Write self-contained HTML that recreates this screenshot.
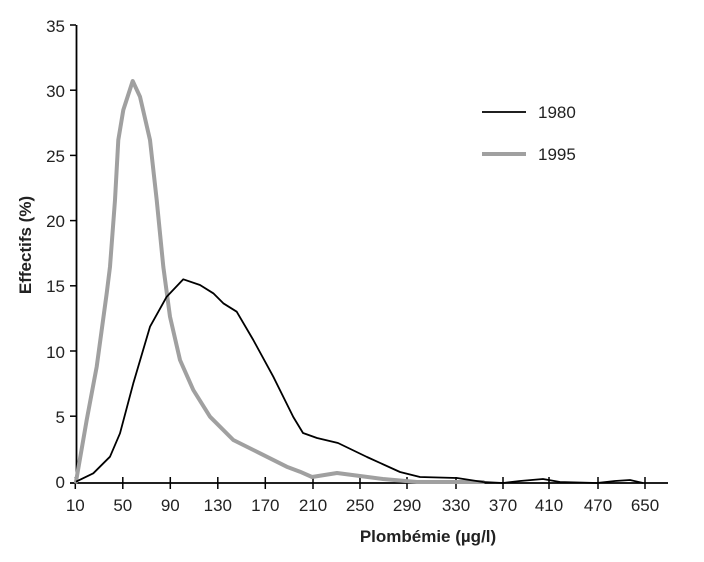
<!DOCTYPE html>
<html><head><meta charset="utf-8"><style>
html,body{margin:0;padding:0;background:#fff;}
svg{display:block;font-family:"Liberation Sans",Arial,sans-serif;}
</style></head><body>
<svg width="704" height="562" viewBox="0 0 704 562" xmlns="http://www.w3.org/2000/svg">
<rect width="704" height="562" fill="#fff"/>
<line x1="76.5" y1="25" x2="76.5" y2="483" stroke="#000" stroke-width="1.8"/>
<line x1="70" y1="483" x2="668" y2="483" stroke="#000" stroke-width="1.8"/>
<g stroke="#000" stroke-width="1.5">
<line x1="70" y1="25" x2="76" y2="25"/><line x1="70" y1="90.2" x2="76" y2="90.2"/>
<line x1="70" y1="155.4" x2="76" y2="155.4"/><line x1="70" y1="220.6" x2="76" y2="220.6"/>
<line x1="70" y1="285.8" x2="76" y2="285.8"/><line x1="70" y1="351" x2="76" y2="351"/>
<line x1="70" y1="416.2" x2="76" y2="416.2"/>
<line x1="75.3" y1="477" x2="75.3" y2="489"/><line x1="122.8" y1="477" x2="122.8" y2="489"/>
<line x1="170.3" y1="477" x2="170.3" y2="489"/><line x1="217.8" y1="477" x2="217.8" y2="489"/>
<line x1="265.3" y1="477" x2="265.3" y2="489"/><line x1="313" y1="477" x2="313" y2="489"/>
<line x1="360" y1="477" x2="360" y2="489"/><line x1="407" y1="477" x2="407" y2="489"/>
<line x1="456" y1="477" x2="456" y2="489"/><line x1="503" y1="477" x2="503" y2="489"/>
<line x1="549" y1="477" x2="549" y2="489"/><line x1="598" y1="477" x2="598" y2="489"/>
<line x1="645" y1="477" x2="645" y2="489"/>
</g>
<g font-size="17" fill="#222" text-anchor="end">
<text x="65" y="32">35</text><text x="65" y="97">30</text><text x="65" y="162">25</text>
<text x="65" y="227">20</text><text x="65" y="292">15</text><text x="65" y="358">10</text>
<text x="65" y="423">5</text><text x="65" y="488">0</text>
</g>
<g font-size="17" fill="#222" text-anchor="middle">
<text x="75.3" y="511">10</text><text x="122.8" y="511">50</text><text x="170.3" y="511">90</text>
<text x="217.8" y="511">130</text><text x="265.3" y="511">170</text><text x="313" y="511">210</text>
<text x="360" y="511">250</text><text x="407" y="511">290</text><text x="456" y="511">330</text>
<text x="503" y="511">370</text><text x="549" y="511">410</text><text x="598" y="511">470</text>
<text x="645" y="511">650</text>
</g>
<text x="428" y="542" font-size="17" font-weight="bold" text-anchor="middle" fill="#222">Plombémie (µg/l)</text>
<text transform="translate(31,245) rotate(-90)" font-size="17" font-weight="bold" text-anchor="middle" fill="#222">Effectifs (%)</text>
<line x1="482" y1="112" x2="526" y2="112" stroke="#000" stroke-width="1.8"/>
<text x="538" y="118" font-size="17" fill="#222">1980</text>
<line x1="482" y1="154" x2="526" y2="154" stroke="#a0a0a0" stroke-width="4"/>
<text x="538" y="160" font-size="17" fill="#222">1995</text>
<polyline fill="none" stroke="#a0a0a0" stroke-width="4" stroke-linejoin="round" stroke-linecap="round"
points="76,481.7 86.7,420 96.7,366.7 106.7,293.3 110,266.7 115,200 118.3,140 123.3,110 132.7,81 140,96.7 150,140 156.7,200 163.3,266.7 170,316.7 180,360 193.3,390 210,416.7 233.3,440 260,453.3 286.7,466.7 300,471.7 312,477 337,473 360,476 383,479 417,482 483,482"/>
<polyline fill="none" stroke="#000" stroke-width="1.8" stroke-linejoin="round"
points="76,481.7 93.3,473.3 110,456.7 120,433.3 133.3,383.3 150,326.7 166.7,296.7 183.3,279.3 200,285 213.3,293.3 223.3,303.3 236.7,311.7 253.3,340 273.3,376.7 293.3,417 303,433 317,438 338,443 367,457 400,472 420,477 457,478 483,482 503,483 520,481 543,479 560,482 597,483 615,481 630,480 643,483"/>
</svg>
</body></html>
